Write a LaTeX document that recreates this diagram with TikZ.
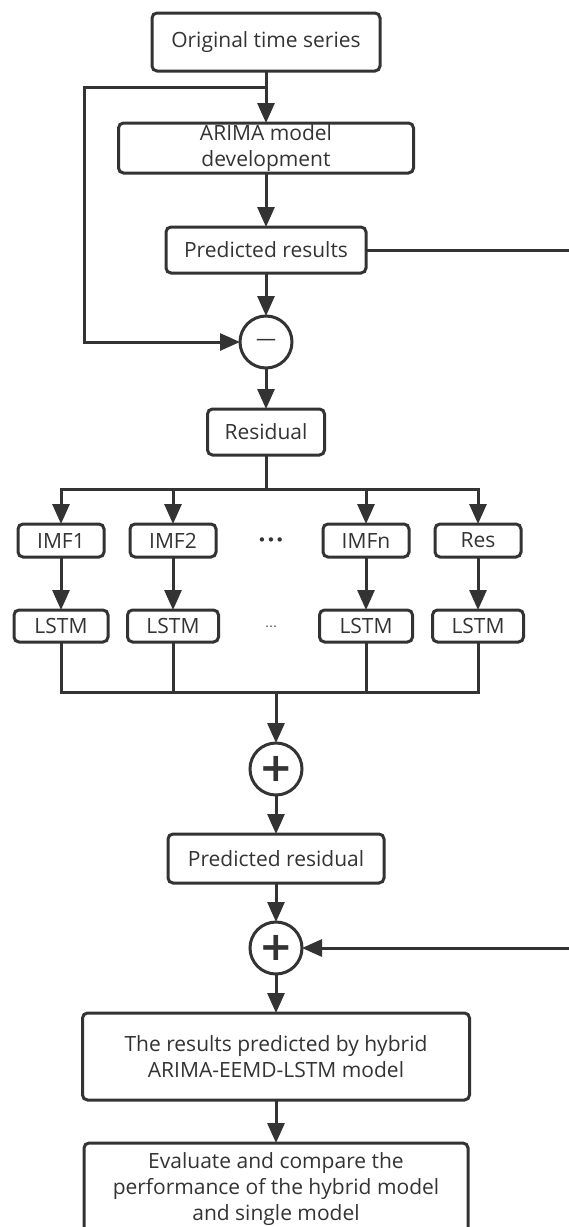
\documentclass[tikz,border=0pt]{standalone}
\usepackage{fontspec}
\setmainfont{Open Sans}
\newfontfamily\symfont{DejaVu Sans}
\usepackage{xcolor}
\usepackage{tikz}
\usetikzlibrary{arrows.meta, positioning, calc}
\definecolor{ink}{RGB}{51,51,51}

\begin{document}
\begin{tikzpicture}[
    x=1pt, y=1pt,
    >={Triangle[length=20pt, width=17pt]},
    box/.style={draw=ink, text=ink, line width=3pt, rounded corners=5pt, inner sep=0pt, outer sep=0pt, align=center, font=\fontsize{21}{26}\selectfont},
    op/.style={draw=ink, text=ink, circle, line width=3pt, minimum size=52pt, inner sep=0pt, outer sep=0pt},
    link/.style={draw=ink, line width=3pt},
]
    \useasboundingbox (0,0) rectangle (569,-1227);
    \clip (0,0) rectangle (569,-1227);

    % main column
    \node[box, minimum width=228pt, minimum height=58pt] (orig) at (266,-42) {Original time series};
    \node[box, minimum width=295pt, minimum height=50pt, below=52pt of orig] (arima) {ARIMA model\\development};
    \node[box, minimum width=200pt, minimum height=46pt, below=54pt of arima] (pred) {Predicted results};
    \node[op, below=43pt of pred, font=\fontsize{20}{20}\selectfont] (minus) {—};
    \node[box, minimum width=117pt, minimum height=46pt, below=41pt of minus] (resid) {Residual};

    % decomposed parts
    \node[box, minimum width=86pt, minimum height=33pt] (imf1) at (61,-540.5) {IMF1};
    \node[box, minimum width=86pt, minimum height=33pt] (imf2) at (173,-540.5) {IMF2};
    \node[text=ink, font=\symfont\fontsize{15}{15}\selectfont] (dotsA) at (271,-542) {•••};
    \node[box, minimum width=86pt, minimum height=33pt] (imfn) at (366,-540.5) {IMFn};
    \node[box, minimum width=86pt, minimum height=33pt] (res) at (478,-540.5) {Res};

    \node[box, minimum width=94pt, minimum height=32pt, below=53pt of imf1] (lstm1) {LSTM};
    \node[box, minimum width=91pt, minimum height=32pt, below=53pt of imf2] (lstm2) {LSTM};
    \node[text=ink, font=\symfont\fontsize{12}{12}\selectfont] (dotsB) at (271,-627) {…};
    \node[box, minimum width=93pt, minimum height=32pt, below=53pt of imfn] (lstmn) {LSTM};
    \node[box, minimum width=91pt, minimum height=32pt, below=53pt of res] (lstmr) {LSTM};

    % recombination
    \node[op, font=\symfont\fontsize{40}{40}\selectfont\bfseries] (sumA) at (276,-769) {+};
    \node[box, minimum width=216pt, minimum height=49pt, below=39pt of sumA] (presid) {Predicted residual};
    \node[op, below=39pt of presid, font=\symfont\fontsize{40}{40}\selectfont\bfseries] (sumB) {+};
    \node[box, minimum width=387pt, minimum height=87pt, below=39pt of sumB] (hybrid) {The results predicted by hybrid\\ARIMA-EEMD-LSTM model};
    \node[box, minimum width=384pt, inner ysep=10pt, text depth=20pt, below=43pt of hybrid] (eval) {Evaluate and compare the\\performance of the hybrid model\\and single model};

    \coordinate (tap) at ([yshift=-16pt]orig.south);
    \coordinate (loopL) at (84,-87);
    \coordinate (split) at (266,-489);
    \coordinate (join) at (276,-692);
    \coordinate (outR) at (600,0);

    \draw[link, ->] (orig) -- (arima);
    \draw[link, ->] (tap) -- (loopL) |- (minus);
    \draw[link, ->] (arima) -- (pred);
    \draw[link, ->] (pred) -- (minus);
    \draw[link, ->] (minus) -- (resid);
    \draw[link, ->] (pred.east) -- (pred.east -| outR) -- (sumB -| outR) -- (sumB);

    \draw[link] (resid) -- (split);
    \draw[link, ->] (split) -| (imf1);
    \draw[link, ->] (split) -| (imf2);
    \draw[link, ->] (split) -| (imfn);
    \draw[link, ->] (split) -| (res);

    \draw[link, ->] (imf1) -- (lstm1);
    \draw[link, ->] (imf2) -- (lstm2);
    \draw[link, ->] (imfn) -- (lstmn);
    \draw[link, ->] (res) -- (lstmr);

    \draw[link] (lstm1) |- (join);
    \draw[link] (lstm2) |- (join);
    \draw[link] (lstmn) |- (join);
    \draw[link] (lstmr) |- (join);
    \draw[link, ->] (join) -- (sumA);

    \draw[link, ->] (sumA) -- (presid);
    \draw[link, ->] (presid) -- (sumB);
    \draw[link, ->] (sumB) -- (hybrid);
    \draw[link, ->] (hybrid) -- (eval);
\end{tikzpicture}
\end{document}
